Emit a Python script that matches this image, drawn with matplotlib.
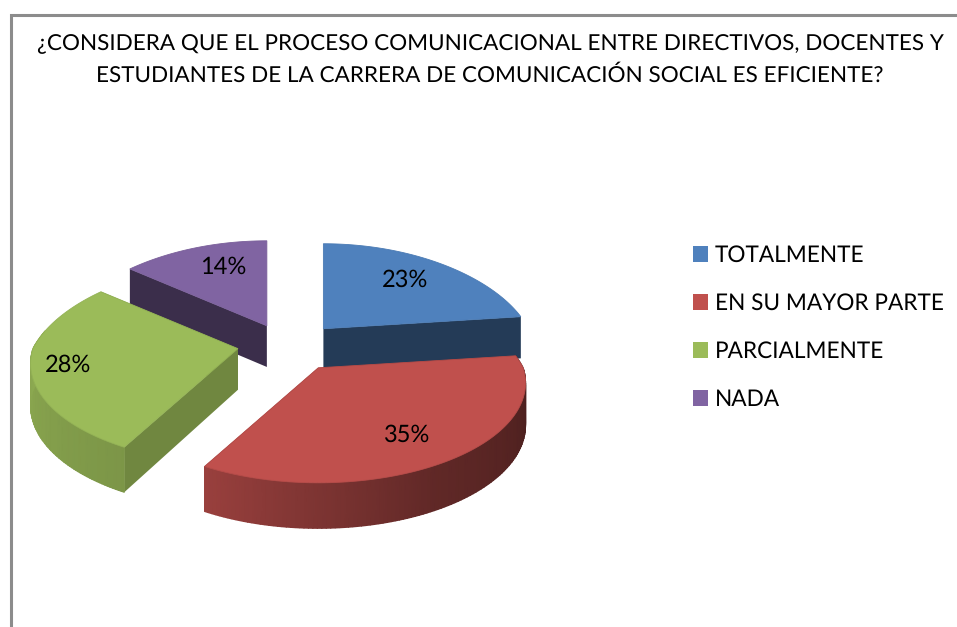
import matplotlib
matplotlib.use('Agg')
import matplotlib.pyplot as plt
from matplotlib.colors import LinearSegmentedColormap, to_rgb
from matplotlib.patches import Polygon, Patch
import numpy as np

# datos del grafico
title_lines = ['¿CONSIDERA QUE EL PROCESO COMUNICACIONAL ENTRE DIRECTIVOS, DOCENTES Y',
               'ESTUDIANTES DE LA CARRERA DE COMUNICACIÓN SOCIAL ES EFICIENTE?']
categories = ['TOTALMENTE', 'EN SU MAYOR PARTE', 'PARCIALMENTE', 'NADA']
values = [23, 35, 28, 14]
colors = ['#4F81BD', '#C0504D', '#9BBB59', '#8064A2']

plt.rcParams['font.family'] = ['Lato', 'DejaVu Sans']
plt.rcParams['text.hinting'] = 'no_hinting'

# geometria de la proyeccion, en pixeles
cx, cy = 289, 343
rx, ry = 205, 97.75
persp = 0.15
persp_x_back = 0.24
depth = 42
expl_x = 52
expl_back, expl_front = 19, 30


def project(apex, theta):
    c = np.cos(theta)
    s = 1 / (1 + persp * c)
    sx = 1 / (1 + persp_x_back * c) if c > 0 else s
    return apex[0] + rx * np.sin(theta) * sx, apex[1] - ry * c * s


def drop(theta):
    s = 1 / (1 + persp * np.cos(theta))
    return depth * s ** 0.5


fig = plt.figure(figsize=(9.57, 6.27), dpi=100)
ax = fig.add_axes([0, 0, 1, 1])
ax.set_xlim(0, 957)
ax.set_ylim(627, 0)
ax.axis('off')

# marco del grafico
ax.plot([10.5, 10.5, 957], [627, 15, 15], color='#8C8C8C', lw=2.2, solid_joinstyle='miter')

fracs = np.array(values) / sum(values)
edges = np.concatenate([[0], np.cumsum(fracs)]) * 2 * np.pi

# primero las porciones de atras
order = [0, 3, 2, 1]
for i in order:
    t0, t1 = edges[i], edges[i + 1]
    mid = (t0 + t1) / 2
    ey = expl_back if np.cos(mid) > 0 else expl_front
    apex = (cx + expl_x * np.sin(mid), cy - ey * np.cos(mid))
    base = np.array(to_rgb(colors[i]))

    # caras internas
    for t in (t0, t1):
        p = project(apex, t)
        d = drop(t)
        quad = [apex, p, (p[0], p[1] + d), (apex[0], apex[1] + depth * 0.98)]
        ax.add_patch(Polygon(quad, closed=True, fc=base * 0.46 if i != 2 else base * 0.72, ec='none', zorder=2))

    # borde curvo con degradado
    thetas = np.linspace(t0, t1, 120)
    front = thetas[(thetas > np.pi / 2 - 0.2) & (thetas < 3 * np.pi / 2 + 0.2)]
    if t1 > np.pi / 2 and len(front) > 1:
        top = np.array([project(apex, t) for t in front])
        bottom = top + np.column_stack([np.zeros(len(front)), [drop(t) for t in front]])
        X = np.vstack([top[:, 0], bottom[:, 0]])
        Y = np.vstack([top[:, 1], bottom[:, 1]])
        shade = np.interp(np.degrees(front), [90, 150, 209, 270], [0.38, 0.50, 0.80, 0.90])
        cmap = LinearSegmentedColormap.from_list('rim', ['black', colors[i]])
        ax.pcolormesh(X, Y, np.vstack([shade, shade]), cmap=cmap, vmin=0, vmax=1,
                      shading='gouraud', zorder=2)

    # cara superior
    pts = [apex] + [project(apex, t) for t in thetas]
    ax.add_patch(Polygon(pts, closed=True, fc=base, ec=base * 0.95, lw=0.6, zorder=2))

# etiquetas de porcentaje
label_pos = [(405, 280), (407, 435), (68, 365), (223, 267)]
for v, (x, y) in zip(values, label_pos):
    ax.text(x, y, f'{v}%', ha='center', va='center', fontsize=17, color='black', zorder=5)

for line, y in zip(title_lines, [50.5, 81.5]):
    ax.text(490, y, line, ha='center', va='baseline', fontsize=16.2, color='black')

handles = [Patch(fc=c, ec='none', label=n) for c, n in zip(colors, categories)]
leg = ax.legend(handles=handles, loc='upper left', bbox_to_anchor=(693, 245), bbox_transform=ax.transData,
                frameon=False, fontsize=16.3, handlelength=0.66, handleheight=0.66, handletextpad=0.31,
                labelspacing=1.2, borderpad=0, borderaxespad=0)

plt.savefig('out.png', dpi=100)
